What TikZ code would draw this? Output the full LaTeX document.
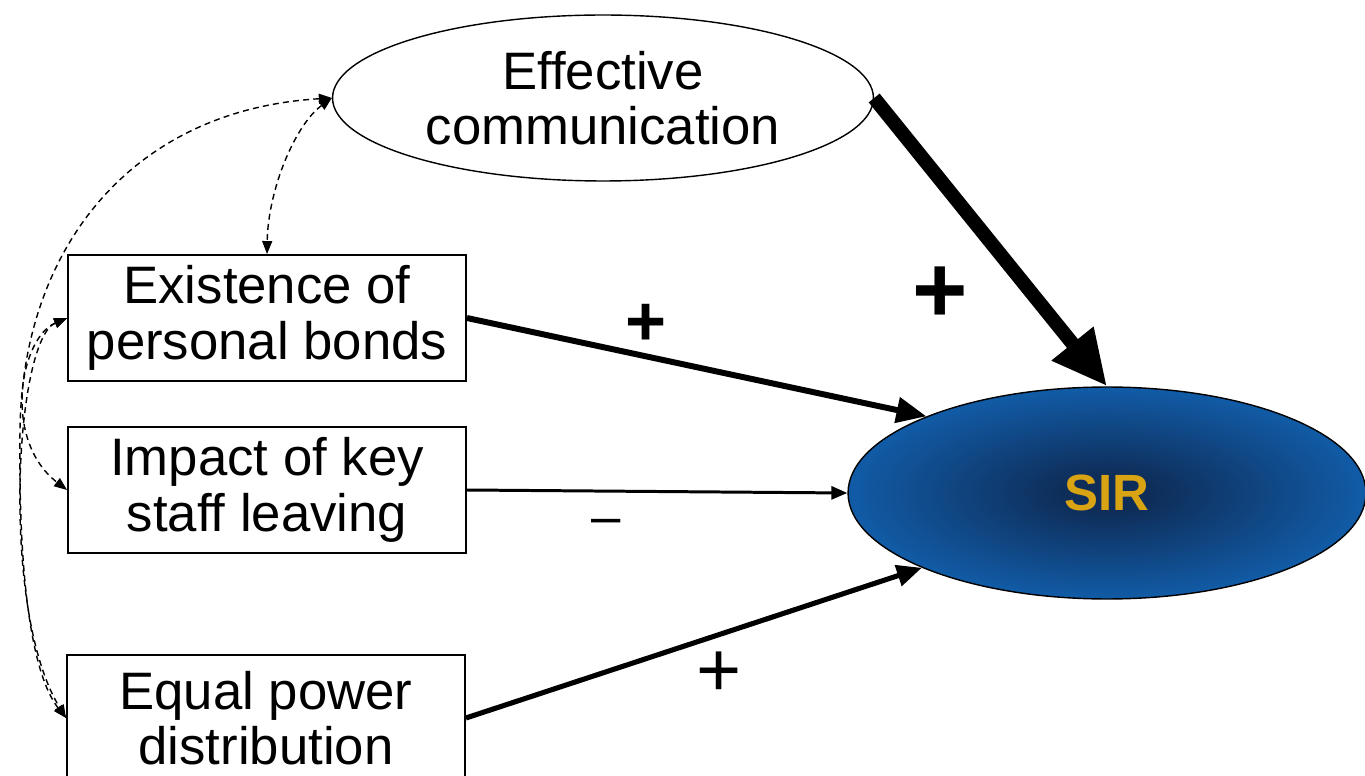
\documentclass[tikz,border=0pt]{standalone}
\usepackage{fontspec}
\setmainfont{Liberation Sans}
\usetikzlibrary{arrows.meta,shapes.geometric}
\definecolor{sirblue}{HTML}{1262B2}
\definecolor{sirdark}{HTML}{0E2D58}
\definecolor{sirgold}{HTML}{D9A414}
\pgfdeclareradialshading{sirshade}{\pgfpoint{0bp}{0bp}}{color(0bp)=(sirdark); color(4bp)=(sirdark); color(28bp)=(sirblue); color(50bp)=(sirblue)}
\begin{document}
\begin{tikzpicture}[x=0.02cm,y=-0.02cm,
  txt/.style={font=\fontsize{30}{31.5}\selectfont,align=center},
  box/.style={txt,draw,line width=1.1pt,minimum width=7.96cm,minimum height=2.52cm,inner sep=0pt},
  cov/.style={dashed,dash pattern=on 3.4pt off 2.4pt,line width=0.8pt,{Triangle[length=0.26cm,width=0.2cm]}-{Triangle[length=0.26cm,width=0.2cm]}},
  sign/.style={inner sep=0pt}
]
\useasboundingbox (0,0) rectangle (1365,776);
\node[txt,ellipse,draw,line width=0.8pt,minimum width=10.82cm,minimum height=3.32cm,inner sep=0pt] (ec) at (603,98) {Effective\\communication};
\node[box] (ex) at (267,318) {Existence of\\personal bonds};
\node[box] (im) at (267,490) {Impact of key\\staff leaving};
\node[box] (eq) at (266,718) {Equal power\\distribution};
\node[ellipse,draw,line width=0.8pt,minimum width=10.36cm,minimum height=4.24cm,inner sep=0pt,shading=sirshade,
  font=\fontsize{29}{31}\selectfont\bfseries,text=sirgold] (sir) at (1107,493) {SIR};
% paths
\draw[line width=8pt,-{Triangle[length=1.1cm,width=1.0cm]}] (ec.east) -- (sir.north);
\draw[line width=3.4pt,-{Triangle[length=0.6cm,width=0.5cm]}] (ex.east) -- (sir.157);
\draw[line width=1.7pt,-{Triangle[length=0.32cm,width=0.26cm]}] (im.east) -- (sir.west);
\draw[line width=2.9pt,-{Triangle[length=0.5cm,width=0.42cm]}] (eq.east) -- (sir.202);
% covariances
\draw[cov] (ec.west) .. controls (295,125) and (268,190) .. (ex.north);
\draw[cov] (ec.west) .. controls (130,110) and (22,250) .. (20,430) .. controls (18,600) and (36,680) .. (eq.west);
\draw[cov] (ex.west) .. controls (20,338) and (2,440) .. (im.west);
\draw[cov] (ex.west) .. controls (15,340) and (0,610) .. (eq.west);
% signs
\node[sign,font=\fontsize{54}{54}\selectfont\bfseries] (s1) at (940,295) {+};
\node[sign,font=\fontsize{40}{40}\selectfont\bfseries] (s2) at (646,325) {+};
\node[sign,font=\fontsize{30}{30}\selectfont] (s3) at (606,527) {–};
\node[sign,font=\fontsize{44}{44}\selectfont] (s4) at (719,674) {+};
\end{tikzpicture}
\end{document}
